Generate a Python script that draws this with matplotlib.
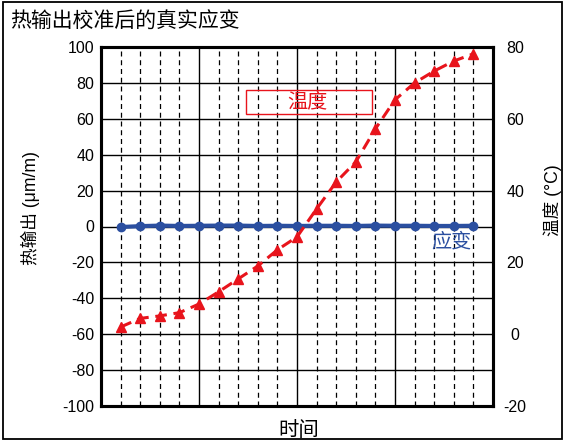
import matplotlib
matplotlib.use("Agg")
import matplotlib.pyplot as plt
from matplotlib.patches import Rectangle

plt.rcParams['font.family'] = ['Liberation Sans', 'Noto Sans CJK SC', 'DejaVu Sans']
plt.rcParams['axes.unicode_minus'] = False

# data
time_pts = list(range(1, 20))
strain = [-0.3, 0.2, 0.5, 0.3, 0.4, 0.5, 0.5, 0.3, 0.4, 0.3,
          0.4, 0.4, 0.3, 0.5, 0.4, 0.4, 0.3, 0.3, 0.4]
temperature = [2.0, 4.4, 5.1, 6.0, 8.4, 11.8, 15.4, 19.0, 23.5, 27.1,
               34.9, 42.4, 48.0, 57.2, 65.3, 70.0, 73.3, 76.1, 78.1]

left_ticks = [-100, -80, -60, -40, -20, 0, 20, 40, 60, 80, 100]
right_ticks = [-20, 0, 20, 40, 60, 80]
x_major = [0, 5, 10, 15, 20]
x_minor = list(range(0, 21))

red = '#e8141c'
blue = '#2b4fa0'

fig = plt.figure(figsize=(5.67, 4.43), dpi=100)

# outer frame
fig.patches.append(Rectangle((3 / 567, 4 / 443), 559 / 567, 437 / 443,
                             transform=fig.transFigure, fill=False,
                             edgecolor='black', linewidth=1.3))

fig.text(10 / 567, 1 - 21.5 / 443, '热输出校准后的真实应变', fontsize=15,
         va='center', ha='left', fontweight='medium')

ax = fig.add_axes([101 / 567, 37 / 443, 392 / 567, 359 / 443])
ax.set_xlim(0, 20)
ax.set_ylim(-100, 100)
ax.set_yticks(left_ticks)
ax.set_xticks(x_major)
ax.set_xticks(x_minor, minor=True)
ax.set_xticklabels([])
ax.tick_params(axis='both', which='both', length=0)
ax.tick_params(axis='y', labelsize=11.5, pad=5)
ax.grid(True, which='major', axis='y', color='black', linewidth=1.0)
ax.grid(True, which='major', axis='x', color='black', linewidth=1.0)
ax.grid(True, which='minor', axis='x', color='black', linewidth=0.9,
        linestyle=(0, (4, 3)))
ax.set_axisbelow(True)

ax.plot(time_pts, strain, color=blue, linewidth=3.0, marker='o',
        markersize=6, zorder=3)

ax.set_ylabel('热输出 (μm/m)', fontsize=12.7, fontweight='medium')
ax.yaxis.set_label_coords(-0.156, 0.552)
ax.set_xlabel('时间', fontsize=14.7, fontweight='medium')
ax.xaxis.set_label_coords(0.505, -0.042)

ax2 = ax.twinx()
ax2.set_ylim(-20, 80)
ax2.set_yticks(right_ticks)
ax2.tick_params(axis='y', length=0, labelsize=11.5, pad=16)
for lab in ax2.get_yticklabels():
    lab.set_horizontalalignment('center')
ax2.plot(time_pts, temperature, color=red, linewidth=2.2,
         linestyle=(0, (3.8, 2.2)), marker='^', markersize=7, zorder=3)
ax2.set_ylabel('温度 (°C)', fontsize=12.7, rotation=90, fontweight='medium')
ax2.yaxis.set_label_coords(1.128, 0.574)

for a in (ax, ax2):
    for sp in a.spines.values():
        sp.set_linewidth(2.2)
        sp.set_color('black')

# annotations
ax.add_patch(Rectangle((0.37, 0.813), 0.321, 0.067, transform=ax.transAxes,
                       fill=False, edgecolor=red, linewidth=1.0, zorder=4))
ax.text(0.5255, 0.847, '温度', transform=ax.transAxes, color=red,
        fontsize=14.5, ha='center', va='center', zorder=5, fontweight='medium')
ax.text(0.893, 0.457, '应变', transform=ax.transAxes, color=blue,
        fontsize=14.5, ha='center', va='center', zorder=5, fontweight='medium')

fig.savefig('out.png', dpi=100)
